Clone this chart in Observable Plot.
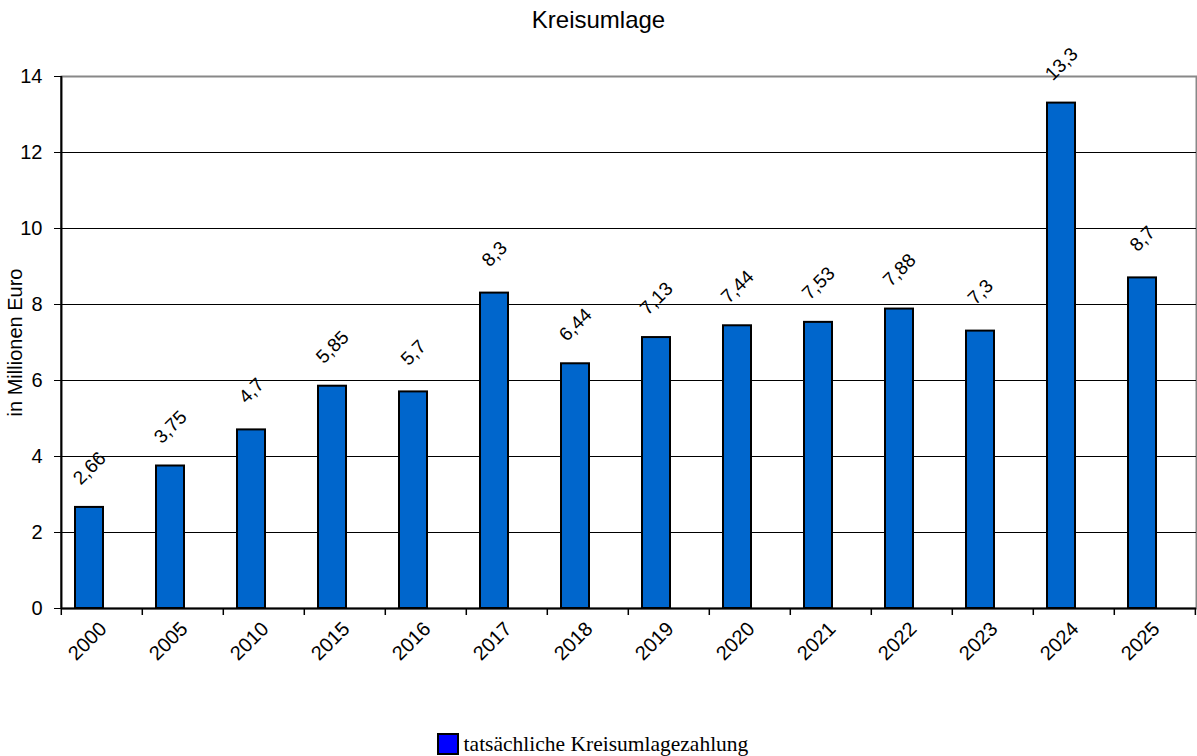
<!DOCTYPE html>
<html>
<head>
<meta charset="utf-8">
<script src="https://cdn.jsdelivr.net/npm/d3@7"></script>
<script src="https://cdn.jsdelivr.net/npm/@observablehq/plot@0.6"></script>
<style>
  body { margin: 0; background: #fff; font-family: "Liberation Sans", Arial, sans-serif; }
  #wrap { width: 1197px; height: 756px; position: relative; overflow: hidden; }
  #title { height: 40px; line-height: 40px; text-align: center; font-size: 24px; color: #000; }
  #legend { position: absolute; left: -6px; width: 1197px; top: 732px; text-align: center;
            font-family: "Liberation Serif", "Times New Roman", serif; font-size: 21.5px; line-height: 24px; color: #000; }
  #legend .sw { display: inline-block; width: 18px; height: 18px; background: #0000ff; border: 2px solid #000;
                vertical-align: -4px; margin-right: 5px; }
</style>
</head>
<body>
<div id="wrap">
  <div id="title">Kreisumlage</div>
  <div id="chart"></div>
  <div id="legend"><span class="sw"></span>tatsächliche Kreisumlagezahlung</div>
</div>
<script>
const years = ["2000","2005","2010","2015","2016","2017","2018","2019","2020","2021","2022","2023","2024","2025"];
const values = [2.66, 3.75, 4.7, 5.85, 5.7, 8.3, 6.44, 7.13, 7.44, 7.53, 7.88, 7.3, 13.3, 8.7];
const yTicks = [0, 2, 4, 6, 8, 10, 12, 14];
const seriesName = "tatsächliche Kreisumlagezahlung";

const data = years.map((y, i) => ({year: y, value: values[i]}));
const fmt = v => String(v).replace(".", ",");

const W = 1197, ML = 61, MR = 1;
const PI = 0.65, PO = 0.325, ALIGN = 0.266;
const step = (W - ML - MR) / (years.length - PI + 2 * PO);
// distance from a bar's centre back to the left edge of its category cell
const back = ALIGN * 2 * PO * step + (1 - PI) * step / 2;

const chart = Plot.plot({
  width: W,
  height: 680,
  marginLeft: ML,
  marginRight: MR,
  marginTop: 36,
  marginBottom: 112,
  style: {fontFamily: "'Liberation Sans', Arial, sans-serif", fontSize: "20px", color: "#000", background: "#fff"},
  x: {domain: years, paddingInner: PI, paddingOuter: PO, align: ALIGN, label: null},
  y: {domain: [0, 14], label: null},
  marks: [
    Plot.frame({stroke: "#888", strokeWidth: 2}),
    Plot.ruleY(yTicks.filter(t => t > 0 && t < 14), {stroke: "#000", strokeWidth: 1}),
    Plot.barY(data, {x: "year", y: "value", fill: "#0066cc", stroke: "#000", strokeWidth: 2}),
    Plot.ruleY([0], {stroke: "#000", strokeWidth: 2}),
    Plot.ruleX([years[0]], {x: d => d, dx: -back, stroke: "#000", strokeWidth: 2}),
    Plot.ruleX(years, {x: d => d, y1: 0, y2: 0, dx: -back, insetBottom: -7, stroke: "#000", strokeWidth: 1.5}),
    Plot.ruleX([years[years.length - 1]], {x: d => d, y1: 0, y2: 0, dx: step - back, insetBottom: -7, stroke: "#000", strokeWidth: 1.5}),
    Plot.axisY({ticks: yTicks, tickSize: 7, tickPadding: 12, fontSize: 20, tickFormat: d => d,
                label: "in Millionen Euro", labelAnchor: "center", labelArrow: "none", labelOffset: 54}),
    Plot.axisX({tickSize: 0, tickRotate: -45, textAnchor: "middle", lineAnchor: "middle", dy: 21, dx: -2, fontSize: 20, label: null}),
    Plot.text(data, {x: "year", y: "value", text: d => fmt(d.value), rotate: -45, dy: -39, fontSize: 19, textAnchor: "middle", lineAnchor: "middle", fill: "#000"})
  ]
});
document.getElementById("chart").appendChild(chart);
</script>
</body>
</html>
